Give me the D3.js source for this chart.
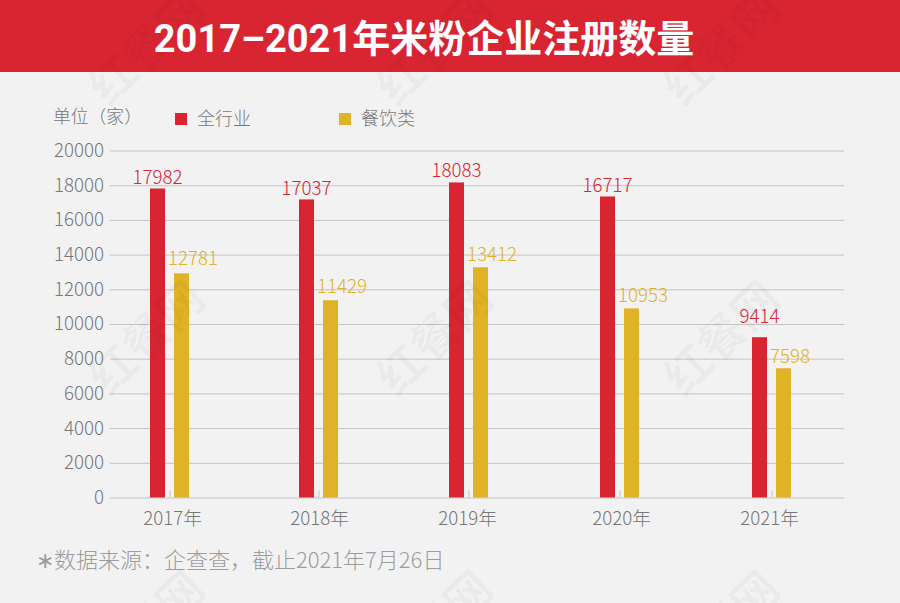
<!DOCTYPE html>
<html>
<head>
<meta charset="utf-8">
<script src="https://cdn.jsdelivr.net/npm/d3@7"></script>
<style>
html, body { margin: 0; padding: 0; background: #f2f2f2; }
svg { display: block; }
text { font-family: "Noto Sans CJK SC", "Noto Sans", sans-serif; }
</style>
</head>
<body>
<div id="chart"></div>
<script>
var years = ["2017年", "2018年", "2019年", "2020年", "2021年"];
var yTicks = [0, 2000, 4000, 6000, 8000, 10000, 12000, 14000, 16000, 18000, 20000];
// labels as printed
var allLabels = [17982, 17037, 18083, 16717, 9414];
var foodLabels = [12781, 11429, 13412, 10953, 7598];
// bar heights as drawn, they do not sit exactly on the printed numbers
var allBars = [17810, 17180, 18160, 17350, 9240];
var foodBars = [12920, 11370, 13270, 10900, 7450];

var width = 900, height = 603;
var red = "#d92532", gold = "#e0b226", gray = "#777";

// hand nudges, the labels in the original were not placed evenly
var allGap = [4, 4, 5, 4, 14];
var foodGap = [8, 7, 6, 6, 5];
var yearNudge = [2.5, 0.5, -1.5, 1.5, -2.5];

var svg = d3.select("#chart").append("svg")
  .attr("width", width)
  .attr("height", height);

svg.append("rect").attr("width", width).attr("height", height).attr("fill", "#f2f2f2");

// header
svg.append("rect").attr("width", width).attr("height", 72).attr("fill", red);
svg.append("text")
  .attr("x", 424)
  .attr("y", 52)
  .attr("text-anchor", "middle")
  .attr("fill", "#fff")
  .style("font-family", "Roboto, 'Noto Sans CJK SC', sans-serif")
  .style("font-size", "38px")
  .style("font-weight", 700)
  .text("2017–2021年米粉企业注册数量");

var y = d3.scaleLinear().domain([0, 20000]).range([497.5, 150.5]);
var x = d3.scaleOrdinal().domain(years).range([169.5, 318.5, 468.5, 619.5, 771.5]);

// y axis + grid
var yAxis = svg.append("g")
  .attr("transform", "translate(110,0)")
  .call(d3.axisLeft(y).tickValues(yTicks).tickFormat(d3.format("d")).tickSize(-734).tickPadding(6));
yAxis.select(".domain").remove();
yAxis.selectAll("line").attr("stroke", "#c4c4c4");
yAxis.selectAll("text")
  .attr("fill", gray)
  .style("font-size", "18.7px")
  .style("font-weight", 300);

// x axis
var xAxis = svg.append("g")
  .attr("transform", "translate(0,497.5)")
  .call(d3.axisBottom(x).tickSize(0).tickPadding(14));
xAxis.select(".domain").remove();
xAxis.selectAll("line").attr("y2", -7).attr("stroke", "#c4c4c4");
xAxis.selectAll("text")
  .attr("dx", function(d, i) { return yearNudge[i]; })
  .attr("fill", gray)
  .style("font-size", "18.7px")
  .style("font-weight", 300);

// bars
var barW = 15;
function addBars(bars, labels, gaps, color, dx, anchor, labelDx) {
  svg.append("g").selectAll("rect")
    .data(bars)
    .enter()
    .append("rect")
    .attr("x", function(d, i) { return x(years[i]) + dx; })
    .attr("y", function(d) { return y(d); })
    .attr("width", barW)
    .attr("height", function(d) { return y(0) - y(d); })
    .attr("fill", color);

  svg.append("g").selectAll("text")
    .data(labels)
    .enter()
    .append("text")
    .attr("x", function(d, i) { return x(years[i]) + dx + labelDx; })
    .attr("y", function(d, i) { return y(bars[i]) - gaps[i]; })
    .attr("text-anchor", anchor)
    .attr("fill", color)
    .style("font-size", "18.7px")
    .style("font-weight", 300)
    .text(function(d) { return d; });
}
addBars(allBars, allLabels, allGap, red, -19.5, "middle", 7.5);
addBars(foodBars, foodLabels, foodGap, gold, 4.5, "start", -6);

// unit + legend
svg.append("text")
  .attr("x", 53).attr("y", 123)
  .attr("fill", gray)
  .style("font-size", "17.8px")
  .style("font-weight", 300)
  .text("单位（家）");

var legend = [["全行业", red, 175], ["餐饮类", gold, 339]];
legend.forEach(function(l) {
  svg.append("rect").attr("x", l[2]).attr("y", 113).attr("width", 12).attr("height", 12).attr("fill", l[1]);
  svg.append("text")
    .attr("x", l[2] + 22).attr("y", 125)
    .attr("fill", gray)
    .style("font-size", "18px")
    .style("font-weight", 300)
    .text(l[0]);
});

// source note
svg.append("text")
  .attr("x", 36).attr("y", 568)
  .attr("fill", "#9c9c9c")
  .style("font-size", "22px")
  .style("font-weight", 300)
  .text("∗数据来源：企查查，截止2021年7月26日");

// watermark
var markX = [147, 435, 722], markY = [48, 338, 628];
markY.forEach(function(my) {
  markX.forEach(function(mx) {
    svg.append("text")
      .attr("transform", "translate(" + mx + "," + my + ") rotate(-44)")
      .attr("text-anchor", "middle")
      .attr("dy", "0.35em")
      .attr("fill", "#000")
      .attr("fill-opacity", 0.03)
      .style("font-size", "46px")
      .style("font-weight", 700)
      .text("红餐网");
  });
});
</script>
</body>
</html>
